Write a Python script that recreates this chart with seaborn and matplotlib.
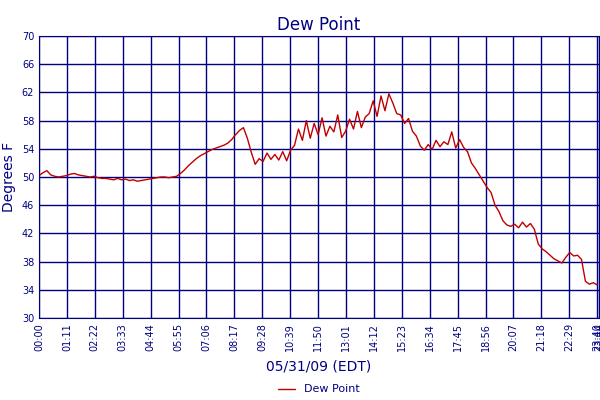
import matplotlib
matplotlib.use("Agg")
import matplotlib.pyplot as plt
import numpy as np
import pandas as pd
import seaborn as sns

NAVY = "#000080"

# dew point, one value every 10 minutes from 00:00
dew_point = [
    50.2, 50.6, 50.9, 50.3, 50.1, 50.0,
    50.1, 50.2, 50.4, 50.5, 50.3, 50.2,
    50.1, 50.0, 50.1, 49.9, 49.8, 49.8,
    49.7, 49.6, 49.8, 49.6, 49.7, 49.5,
    49.6, 49.4, 49.5, 49.6, 49.7, 49.8,
    49.9, 50.0, 50.0, 49.9, 50.0, 50.1,
    50.5, 51.0, 51.6, 52.1, 52.6, 53.0,
    53.3, 53.6, 53.9, 54.1, 54.3, 54.5,
    54.8, 55.3, 56.0, 56.6, 57.0, 55.5,
    53.5, 51.8, 52.6, 52.2, 53.4, 52.5,
    53.2, 52.4, 53.6, 52.3, 53.8, 54.5,
    56.8, 55.2, 58.0, 55.5, 57.6, 56.0,
    58.4, 55.8, 57.2, 56.4, 58.8, 55.6,
    56.5, 58.2, 56.8, 59.3, 57.0, 58.5,
    59.0, 60.8, 58.6, 61.5, 59.4, 61.8,
    60.5, 59.0, 58.8, 57.6, 58.3, 56.5,
    55.8, 54.4, 53.8, 54.6, 53.9, 55.2,
    54.3, 55.0, 54.6, 56.4, 54.1, 55.3,
    54.2, 53.6, 52.0, 51.2, 50.3, 49.4,
    48.5, 47.8, 46.0, 45.1, 43.8, 43.2,
    43.0, 43.3, 42.8, 43.6, 42.9, 43.4,
    42.6, 40.5, 39.8, 39.4, 38.9, 38.4,
    38.1, 37.8, 38.6, 39.3, 38.8, 38.9,
    38.3, 35.2, 34.8, 35.0, 34.7,
]
minutes = np.arange(len(dew_point)) * 10
end_minute = 1424

tick_minutes = list(range(0, 1421, 71)) + [end_minute]
tick_labels = [f"{m // 60:02d}:{m % 60:02d}" for m in tick_minutes]

df = pd.DataFrame({"minute": minutes, "dew_point": dew_point})

sns.set_style("white")
fig = plt.figure(figsize=(6, 4), dpi=100)
ax = fig.add_axes([0.065, 0.205, 0.933, 0.705])

sns.lineplot(data=df, x="minute", y="dew_point", color="#c00000", linewidth=1, ax=ax, label="Dew Point")

ax.set_xlim(0, end_minute)
ax.set_ylim(30, 70)
ax.set_yticks(range(30, 71, 4))
ax.set_xticks(tick_minutes)
ax.set_xticklabels(tick_labels, rotation=90, fontsize=7, color=NAVY)
ax.tick_params(axis="y", labelsize=7, labelcolor=NAVY, length=0)
ax.tick_params(axis="x", length=0)
ax.grid(True, color=NAVY, linewidth=1)
for s in ax.spines.values():
    s.set_color(NAVY)

ax.set_title("Dew Point", color=NAVY, fontsize=12, pad=4)
ax.set_xlabel("05/31/09 (EDT)", color=NAVY, fontsize=10, labelpad=6)
ax.set_ylabel("Degrees F", color=NAVY, fontsize=10, labelpad=4)

ax.legend(loc="upper center", bbox_to_anchor=(0.5, -0.2), frameon=False, fontsize=8,
          labelcolor=NAVY, handlelength=1.5)

fig.savefig("out.png", dpi=100)
